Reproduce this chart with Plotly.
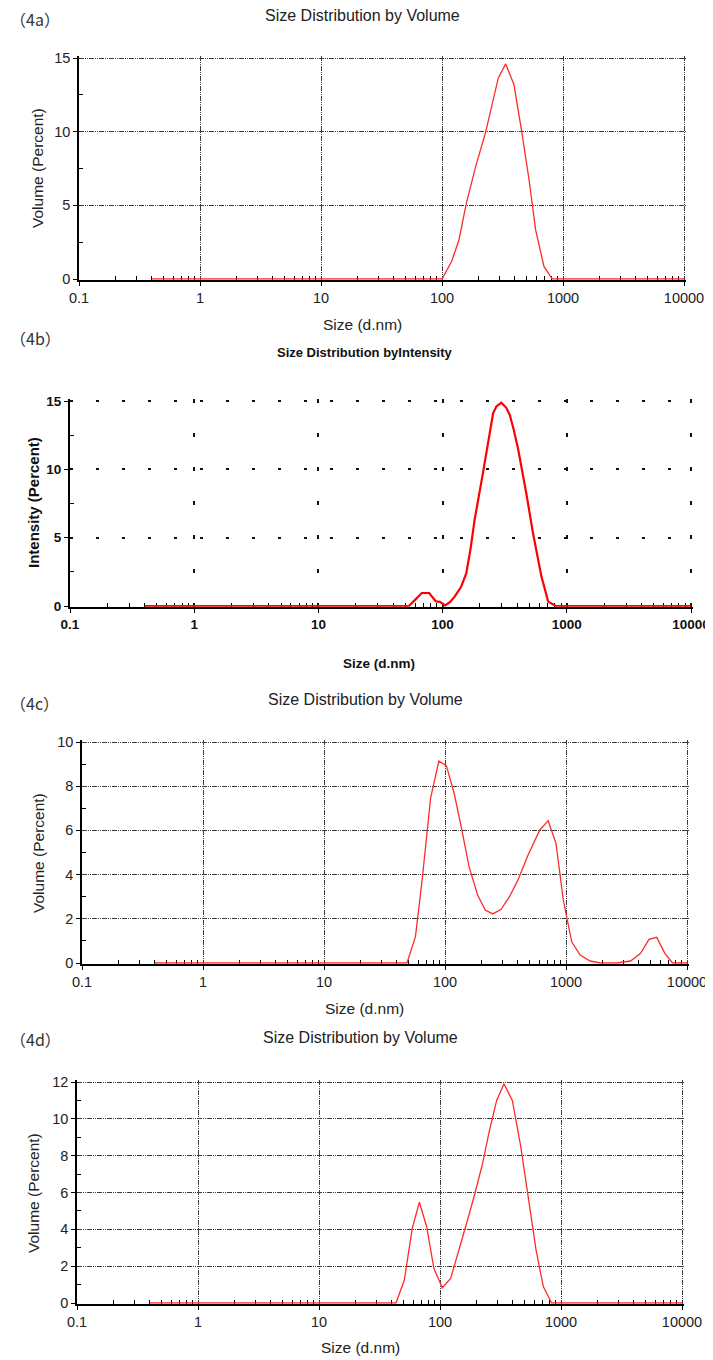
import plotly.graph_objects as go

W, H = 713, 1360
OFF = 8  # page body margin in the browser

# ---------------- data ----------------
a_size = [0.4, 100, 120, 138, 159, 190, 230, 292, 336, 393, 456, 525, 594, 697, 817, 10000]
a_vol = [0, 0, 1.18, 2.65, 5.15, 7.64, 10.0, 13.65, 14.6, 13.2, 10.0, 6.7, 3.33, 0.84, 0, 0]

b_size = [0.4, 53.5, 60, 68, 78, 88, 95, 105, 115, 125, 141, 155, 168, 181, 211, 232, 255, 271,
          297, 326, 347, 374, 405, 473, 535, 625, 680, 708, 815, 10000]
b_int = [0, 0, 0.45, 0.95, 0.95, 0.35, 0.3, 0.05, 0.3, 0.68, 1.41, 2.39, 4.2, 6.3, 9.7, 11.9, 14.1, 14.6,
         14.87, 14.5, 14.0, 12.9, 11.5, 8.2, 5.3, 2.15, 0.8, 0.32, 0, 0]

c_size = [0.4, 48.5, 57, 64.7, 76, 89, 102.6, 119, 138, 158, 186, 215, 248, 291, 341, 401, 486, 607,
          712, 826, 950, 1115, 1309, 1585, 1920, 2640, 3415, 4140, 4850, 5620, 6560, 7600, 10000]
c_vol = [0, 0, 1.19, 3.75, 7.45, 9.14, 8.93, 7.68, 6.0, 4.36, 3.08, 2.4, 2.22, 2.43, 3.0, 3.76, 4.89, 6.02,
         6.44, 5.42, 2.85, 0.96, 0.36, 0.09, 0, 0, 0.09, 0.44, 1.07, 1.16, 0.44, 0, 0]

d_size = [0.4, 43.3, 50.7, 59, 67.5, 77.6, 89, 104.5, 122.5, 141.6, 166, 194.5, 225, 255, 294, 338,
          396, 465, 537, 622, 714, 837, 10000]
d_vol = [0, 0, 1.25, 4.05, 5.47, 4.14, 1.88, 0.83, 1.34, 2.7, 4.33, 5.96, 7.58, 9.3, 11.0, 11.9,
         11.0, 8.49, 5.77, 2.88, 0.89, 0, 0]

x_tickvals = [0.1, 1, 10, 100, 1000, 10000]
x_ticktext = ["0.1", "1", "10", "100", "1000", "10000"]
x_minor = [k * 10 ** d for d in range(-1, 4) for k in range(2, 10)]

FONT = "Liberation Sans, Arial, sans-serif"
CJK = "Noto Sans CJK SC"


def px_x(x):
    return (x - OFF) / W


def px_y(y):
    return 1 - (y - OFF) / H


# panel geometry in screen pixels
panels = [
    dict(x0=79, x1=684, y0=279, yt=58, ymax=15, yt_vals=[0, 5, 10, 15], yminor=[2.5, 7.5, 12.5]),
    dict(x0=70, x1=691, y0=606, yt=401, ymax=15, yt_vals=[0, 5, 10, 15], yminor=[2.5, 7.5, 12.5]),
    dict(x0=82, x1=687, y0=963, yt=742, ymax=10, yt_vals=[0, 2, 4, 6, 8, 10], yminor=[1, 3, 5, 7, 9]),
    dict(x0=77, x1=682, y0=1303, yt=1082, ymax=12, yt_vals=[0, 2, 4, 6, 8, 10, 12], yminor=[1, 3, 5, 7, 9, 11]),
]
series = [(a_size, a_vol), (b_size, b_int), (c_size, c_vol), (d_size, d_vol)]

fig = go.Figure()
layout = dict(width=W, height=H, autosize=False, margin=dict(l=0, r=0, t=0, b=0, pad=0, autoexpand=False),
              paper_bgcolor="white", plot_bgcolor="white", showlegend=False)

for i, (p, (sx, sy)) in enumerate(zip(panels, series)):
    n = "" if i == 0 else str(i + 1)
    bold = (i == 1)
    xppu = (p["x1"] - p["x0"]) / 5.0
    xpad = 2.0 / xppu
    xr = [-1, 4 + xpad]
    xdom = [px_x(p["x0"]), px_x(p["x1"] + xpad * xppu)]
    yppu = (p["y0"] - p["yt"]) / p["ymax"]
    ylo = 0.8 / yppu
    yhi = 2.0 / yppu
    yr = [-ylo, p["ymax"] + yhi]
    ydom = [px_y(p["y0"] + ylo * yppu), px_y(p["yt"] - yhi * yppu)]

    if bold:
        xgrid = dict(griddash="4px,30px", gridcolor="#111", gridwidth=1.5)
        ygrid = dict(griddash="3px,23px", gridcolor="#111", gridwidth=1.5)
        lw, tf = 2, dict(family=FONT, size=13.5, color="#111", weight="bold")
    else:
        xgrid = dict(griddash="5px,1px,1px,1px,1px,1px", gridcolor="#3a3a3a", gridwidth=1)
        ygrid = dict(griddash="5px,1px,1px,1px,1px,1px", gridcolor="#3a3a3a", gridwidth=1)
        lw, tf = 1.3, dict(family=FONT, size=14.5, color="#222")

    layout["xaxis" + n] = dict(
        type="log", range=xr, domain=xdom, anchor="y" + n, automargin=False,
        tickmode="array", tickvals=x_tickvals, ticktext=x_ticktext,
        ticks="outside", ticklen=4, tickwidth=1.3, tickcolor="black",
        minor=dict(tickmode="array", tickvals=x_minor, ticks="inside", ticklen=4,
                   tickwidth=1.2, tickcolor="black", showgrid=False),
        showgrid=True, **xgrid,
        showline=True, linecolor="black", linewidth=2 if bold else 1.5,
        zeroline=False, tickfont=tf, layer="below traces", fixedrange=True,
    )
    layout["yaxis" + n] = dict(
        range=yr, domain=ydom, anchor="x" + n, automargin=False,
        tickmode="array", tickvals=p["yt_vals"],
        ticks="outside", ticklen=4, tickwidth=1.3, tickcolor="black",
        minor=dict(tickmode="array", tickvals=p["yminor"], ticks="inside", ticklen=4,
                   tickwidth=1.2, tickcolor="black", showgrid=False),
        showgrid=True, **ygrid,
        showline=True, linecolor="black", linewidth=2 if bold else 1.5,
        zeroline=False, tickfont=tf, layer="below traces", fixedrange=True,
    )
    fig.add_trace(go.Scatter(
        x=sx, y=sy, mode="lines", xaxis="x" + n, yaxis="y" + n,
        line=dict(color="#ff0000" if bold else "#ff2a2a", width=2.2 if bold else lw),
        hoverinfo="skip"))

annotations = []


def txt(x, y, s, size=15.5, font=FONT, rot=0, bold=False, color="#222", xanchor="center"):
    f = dict(family=font, size=size, color=color)
    if bold:
        f["weight"] = "bold"
    annotations.append(dict(x=px_x(x), y=px_y(y), xref="paper", yref="paper", text=s,
                            showarrow=False, font=f, textangle=rot, borderpad=0,
                            xanchor=xanchor, yanchor="middle"))


# panel labels
txt(8.5, 19.5, "（4a）", size=16, font=CJK, color="#333", xanchor="left")
txt(8.5, 338, "（4b）", size=16, font=CJK, color="#333", xanchor="left")
txt(8.5, 703, "（4c）", size=16, font=CJK, color="#333", xanchor="left")
txt(8.5, 1039, "（4d）", size=16, font=CJK, color="#333", xanchor="left")

# titles
txt(362, 16, "Size Distribution by Volume", size=16)
txt(365, 352, "Size Distribution byIntensity", size=13, bold=True, color="#111")
txt(365, 699, "Size Distribution by Volume", size=16)
txt(360, 1037, "Size Distribution by Volume", size=16)

# x-axis titles
txt(362, 324, "Size (d.nm)")
txt(379, 663, "Size (d.nm)", size=13.5, bold=True, color="#111")
txt(364, 1008, "Size (d.nm)")
txt(360, 1347, "Size (d.nm)")

# y-axis titles
txt(37, 168, "Volume (Percent)", rot=-90)
txt(33, 503, "Intensity (Percent)", size=15, bold=True, rot=-90, color="#111")
txt(38, 853, "Volume (Percent)", rot=-90)
txt(33, 1193, "Volume (Percent)", rot=-90)

layout["annotations"] = annotations
fig.update_layout(**layout)
fig.write_html("out.html", config={"responsive": False})
